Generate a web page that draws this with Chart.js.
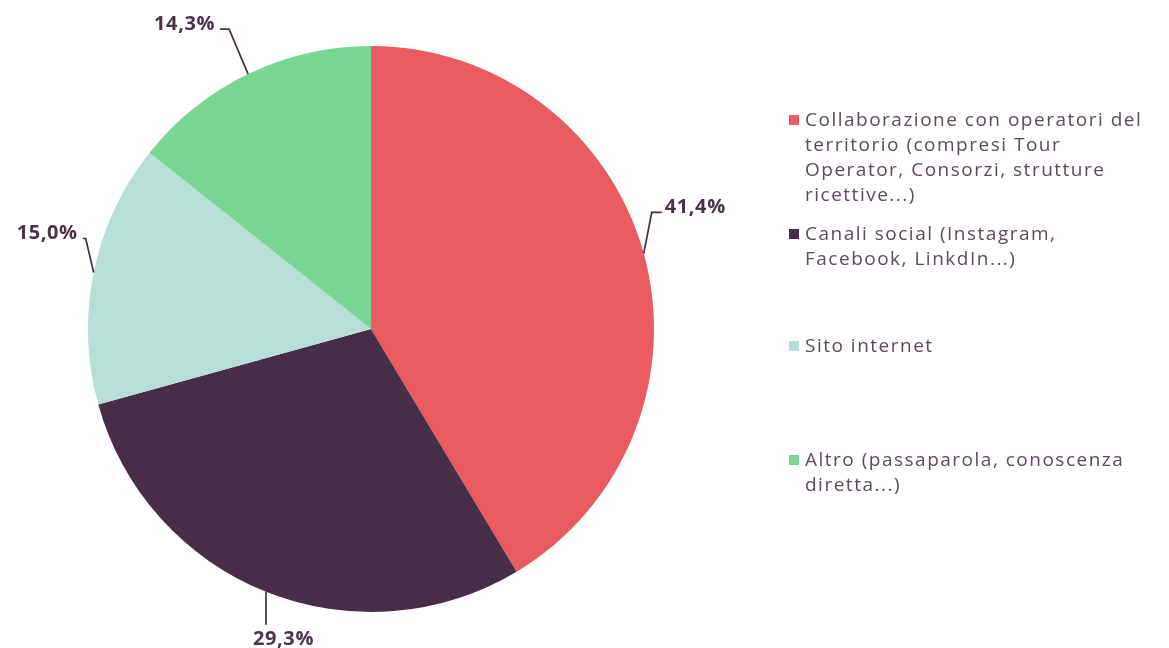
<!DOCTYPE html>
<html>
<head>
<meta charset="utf-8">
<script src="https://cdn.jsdelivr.net/npm/chart.js@4"></script>
<style>
  html, body { margin: 0; padding: 0; background: #fff; }
  #wrap { position: relative; width: 1169px; height: 648px; }
  #legend { position: absolute; left: 789px; top: 0; font-family: "Open Sans", sans-serif; font-size: 19px; color: #5b4b5b; }
  .item { position: absolute; left: 0; width: 370px; line-height: 25px; padding-left: 16px; white-space: nowrap; letter-spacing: 1.5px; }
  .item i { position: absolute; left: 0; top: 8px; width: 10px; height: 10px; }
</style>
</head>
<body>
<div id="wrap">
  <canvas id="myChart" width="1169" height="648"></canvas>
  <div id="legend"></div>
</div>
<script>
// dati
var categories = [
  ['Collaborazione con operatori del', 'territorio (compresi Tour', 'Operator, Consorzi, strutture', 'ricettive...)'],
  ['Canali social (Instagram,', 'Facebook, LinkdIn...)'],
  ['Sito internet'],
  ['Altro (passaparola, conoscenza', 'diretta...)']
];
var values = [41.4, 29.3, 15.0, 14.3];
var valueLabels = ['41,4%', '29,3%', '15,0%', '14,3%'];
var colors = ['#E95B5F', '#472D47', '#B8DED8', '#7AD693'];

// posizione etichette: gomito (dx,dy) dal bordo, tratto orizzontale, allineamento testo
var labelStyle = [
  { dx: 8, dy: -41, h: 10, align: 'left' },
  { dx: 0, dy: 33, h: 0, align: 'below' },
  { dx: -8, dy: -34, h: -3, align: 'right' },
  { dx: -19, dy: -45, h: -9, align: 'right' }
];
var legendTops = [107, 221, 333, 447];

// plugin per le etichette con linea di richiamo
var leaderLabels = {
  id: 'leaderLabels',
  afterDatasetsDraw: function (chart) {
    var ctx = chart.ctx;
    var meta = chart.getDatasetMeta(0);
    meta.data.forEach(function (arc, i) {
      var p = arc.getProps(['x', 'y', 'startAngle', 'endAngle', 'outerRadius'], true);
      var mid = (p.startAngle + p.endAngle) / 2;
      var sx = p.x + Math.cos(mid) * p.outerRadius;
      var sy = p.y + Math.sin(mid) * p.outerRadius;
      var s = labelStyle[i];
      var ex = sx + s.dx, ey = sy + s.dy;
      var hx = ex + s.h;
      ctx.save();
      ctx.strokeStyle = '#472D47';
      ctx.lineWidth = 1.7;
      ctx.beginPath();
      ctx.moveTo(sx, sy);
      ctx.lineTo(ex, ey);
      ctx.lineTo(hx, ey);
      ctx.stroke();
      ctx.fillStyle = '#4a334a';
      ctx.font = 'bold 20px "Open Sans"';
      ctx.letterSpacing = '0.6px';
      if (s.align === 'left') {
        ctx.textAlign = 'left'; ctx.textBaseline = 'alphabetic';
        ctx.fillText(valueLabels[i], hx + 3, ey + 1);
      } else if (s.align === 'right') {
        ctx.textAlign = 'right'; ctx.textBaseline = 'alphabetic';
        ctx.fillText(valueLabels[i], hx - 5, ey + 1);
      } else {
        ctx.textAlign = 'left'; ctx.textBaseline = 'top';
        ctx.fillText(valueLabels[i], ex - 13, ey + 4);
      }
      ctx.restore();
    });
  }
};

var ctx = document.getElementById('myChart').getContext('2d');
var myChart = new Chart(ctx, {
  type: 'pie',
  data: {
    labels: categories,
    datasets: [{
      data: values,
      backgroundColor: colors,
      borderWidth: 0
    }]
  },
  options: {
    responsive: false,
    animation: false,
    layout: {
      padding: { left: 88, right: 515, top: 46, bottom: 36 }
    },
    plugins: {
      legend: { display: false },
      tooltip: { enabled: false }
    }
  },
  plugins: [leaderLabels]
});

// legenda HTML
var legend = document.getElementById('legend');
categories.forEach(function (lines, i) {
  var d = document.createElement('div');
  d.className = 'item';
  d.style.top = legendTops[i] + 'px';
  d.innerHTML = '<i style="background:' + colors[i] + '"></i>' + lines.join('<br>');
  legend.appendChild(d);
});
</script>
</body>
</html>
